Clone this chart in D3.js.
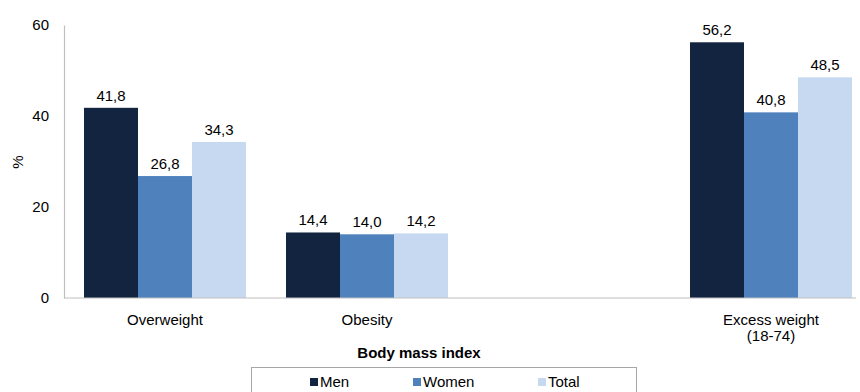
<!DOCTYPE html>
<html>
<head>
<meta charset="utf-8">
<script src="https://cdn.jsdelivr.net/npm/d3@7"></script>
<style>
  html, body { margin: 0; padding: 0; background: #fff; }
  svg { display: block; font-family: "Liberation Sans", Arial, sans-serif; }
</style>
</head>
<body>
<svg id="chart" width="860" height="392"></svg>
<script>
// Body mass index by sex (%)
const categories = ["Overweight", "Obesity", "", "Excess weight"];
const categoryLines = [["Overweight"], ["Obesity"], [], ["Excess weight", "(18-74)"]];
const seriesNames = ["Men", "Women", "Total"];
const men   = [41.8, 14.4, null, 56.2];
const women = [26.8, 14.0, null, 40.8];
const total = [34.3, 14.2, null, 48.5];
const valueLabels = {
  Men:   ["41,8", "14,4", null, "56,2"],
  Women: ["26,8", "14,0", null, "40,8"],
  Total: ["34,3", "14,2", null, "48,5"]
};
const yTicks = [0, 20, 40, 60];
const colors = ["#12243f", "#4f81bd", "#c6d9f0"];

const FS = 15;
const series = [men, women, total];
const svg = d3.select("#chart");

const x = d3.scaleBand()
  .domain(categories.map((c, i) => i))
  .range([64, 872])
  .paddingInner(0.198)
  .paddingOuter(0.099);

const xs = d3.scaleBand()
  .domain(seriesNames)
  .range([0, x.bandwidth()]);

const y = d3.scaleLinear().domain([0, 60]).range([298, 25]);

// y axis
const yAxis = d3.axisLeft(y).tickValues(yTicks).tickSize(0).tickPadding(15);
const gy = svg.append("g").attr("transform", "translate(64,0)").call(yAxis);
gy.select(".domain").attr("stroke", "#bfbfbf").attr("stroke-width", 1.2);
gy.selectAll("text").attr("font-size", FS).attr("fill", "#000")
  .attr("font-family", "Liberation Sans, Arial, sans-serif");

// bars
categories.forEach((c, i) => {
  series.forEach((s, j) => {
    const v = s[i];
    if (v == null) return;
    const name = seriesNames[j];
    const bx = x(i) + xs(name);
    svg.append("rect")
      .attr("x", bx)
      .attr("y", y(v))
      .attr("width", xs.bandwidth())
      .attr("height", y(0) - y(v))
      .attr("fill", colors[j]);
    svg.append("text")
      .attr("x", bx + xs.bandwidth() / 2)
      .attr("y", y(v) - 7)
      .attr("text-anchor", "middle")
      .attr("font-size", FS)
      .attr("fill", "#000")
      .text(valueLabels[name][i]);
  });
});

// x axis line
svg.append("line")
  .attr("x1", 64).attr("x2", 856)
  .attr("y1", y(0)).attr("y2", y(0))
  .attr("stroke", "#bfbfbf").attr("stroke-width", 1.2);

// category labels
categories.forEach((c, i) => {
  const t = svg.append("text")
    .attr("x", x(i) + x.bandwidth() / 2)
    .attr("y", 325)
    .attr("text-anchor", "middle")
    .attr("font-size", FS)
    .attr("fill", "#000");
  categoryLines[i].forEach((line, k) => {
    t.append("tspan")
      .attr("x", x(i) + x.bandwidth() / 2)
      .attr("dy", k === 0 ? 0 : 16)
      .text(line);
  });
});

// axis titles
svg.append("text")
  .attr("transform", "translate(23,162) rotate(-90)")
  .attr("text-anchor", "middle")
  .attr("font-size", FS)
  .text("%");

svg.append("text")
  .attr("x", 419)
  .attr("y", 358)
  .attr("text-anchor", "middle")
  .attr("font-size", FS)
  .attr("font-weight", "bold")
  .text("Body mass index");

// legend
const legend = svg.append("g");
legend.append("rect")
  .attr("x", 251.5).attr("y", 367.5)
  .attr("width", 385).attr("height", 40)
  .attr("fill", "#fff")
  .attr("stroke", "#a6a6a6").attr("stroke-width", 1);

const legendX = [310, 413, 538];
seriesNames.forEach((name, j) => {
  legend.append("rect")
    .attr("x", legendX[j]).attr("y", 378)
    .attr("width", 8).attr("height", 8)
    .attr("fill", colors[j]);
  legend.append("text")
    .attr("x", legendX[j] + 10).attr("y", 387)
    .attr("font-size", FS)
    .attr("fill", "#000")
    .text(name);
});
</script>
</body>
</html>
